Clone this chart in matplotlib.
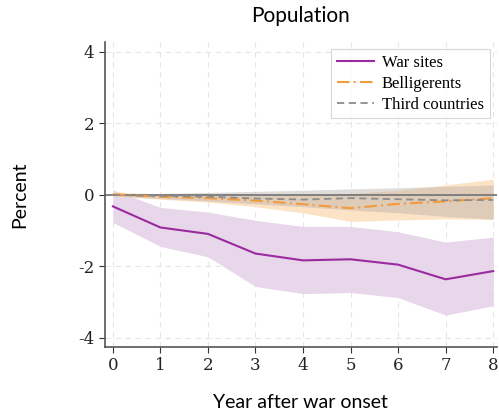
import matplotlib.pyplot as plt
import numpy as np

plt.rcParams['axes.unicode_minus'] = False

years = np.arange(0, 9)

# war sites
war = [-0.32, -0.91, -1.09, -1.64, -1.83, -1.80, -1.95, -2.36, -2.13]
war_hi = [0.14, -0.35, -0.48, -0.71, -0.88, -0.88, -1.03, -1.32, -1.18]
war_lo = [-0.77, -1.44, -1.73, -2.56, -2.76, -2.73, -2.87, -3.36, -3.10]

# belligerents
bel = [0.02, -0.05, -0.09, -0.16, -0.26, -0.37, -0.25, -0.18, -0.09]
bel_hi = [0.08, 0.03, 0.01, 0.0, 0.0, 0.04, 0.13, 0.28, 0.44]
bel_lo = [-0.03, -0.12, -0.2, -0.33, -0.5, -0.74, -0.70, -0.67, -0.68]

# third countries
third = [0.0, -0.03, -0.05, -0.1, -0.13, -0.09, -0.12, -0.15, -0.14]
third_hi = [0.02, 0.04, 0.07, 0.1, 0.13, 0.17, 0.2, 0.24, 0.28]
third_lo = [-0.03, -0.1, -0.17, -0.25, -0.33, -0.42, -0.5, -0.6, -0.68]

purple = '#9a2a9f'
orange = '#f39a3a'
grey = '#8c8c8c'

fig = plt.figure(figsize=(4.99, 4.11), dpi=100)
ax = fig.add_axes([0.21, 0.156, 0.786, 0.742])

ax.fill_between(years, war_lo, war_hi, color='#e8d6ea', lw=0)
ax.fill_between(years, bel_lo, bel_hi, color='#fde3c6', lw=0)
ax.fill_between(years, third_lo, third_hi, color='#b9b2ab', alpha=0.45, lw=0)

ax.axhline(0, color='#7a7a7a', lw=1.3, zorder=2)

ax.plot(years, war, color=purple, lw=1.5, label='War sites', zorder=3)
ax.plot(years, bel, color=orange, lw=1.5, ls=(0, (6, 2, 1, 2)), label='Belligerents', zorder=3)
ax.plot(years, third, color=grey, lw=1.3, ls=(0, (4, 2.5)), label='Third countries', zorder=3)

ax.set_xlim(-0.17, 8.08)
ax.set_ylim(-4.25, 4.28)
ax.set_xticks(years)
ax.set_yticks([-4, -2, 0, 2, 4])
ax.grid(True, color='#e6e6e6', ls=(0, (5, 4)), lw=0.8)
ax.set_axisbelow(True)

for s in ['top', 'right']:
    ax.spines[s].set_visible(False)
for s in ['left', 'bottom']:
    ax.spines[s].set_color('#555555')
    ax.spines[s].set_linewidth(1.2)

ax.tick_params(colors='#333333', labelsize=12, length=4, width=0.8)
for lab in ax.get_xticklabels() + ax.get_yticklabels():
    lab.set_family('DejaVu Serif')
    lab.set_color('#222222')

ax.set_title('Population', fontsize=15, family='Lato', pad=14)
ax.set_xlabel('Year after war onset', fontsize=14, family='Lato', labelpad=14)
ax.set_ylabel('Percent', fontsize=14, family='Lato', labelpad=36)

leg = ax.legend(loc='upper right', prop={'family': 'Liberation Serif', 'size': 12},
                frameon=True, fancybox=False, edgecolor='#cccccc',
                handlelength=2.2, handletextpad=0.5, borderpad=0.35,
                labelspacing=0.3, bbox_to_anchor=(1.003, 1.005))
leg.get_frame().set_linewidth(0.8)

fig.savefig('out.png', dpi=100)
